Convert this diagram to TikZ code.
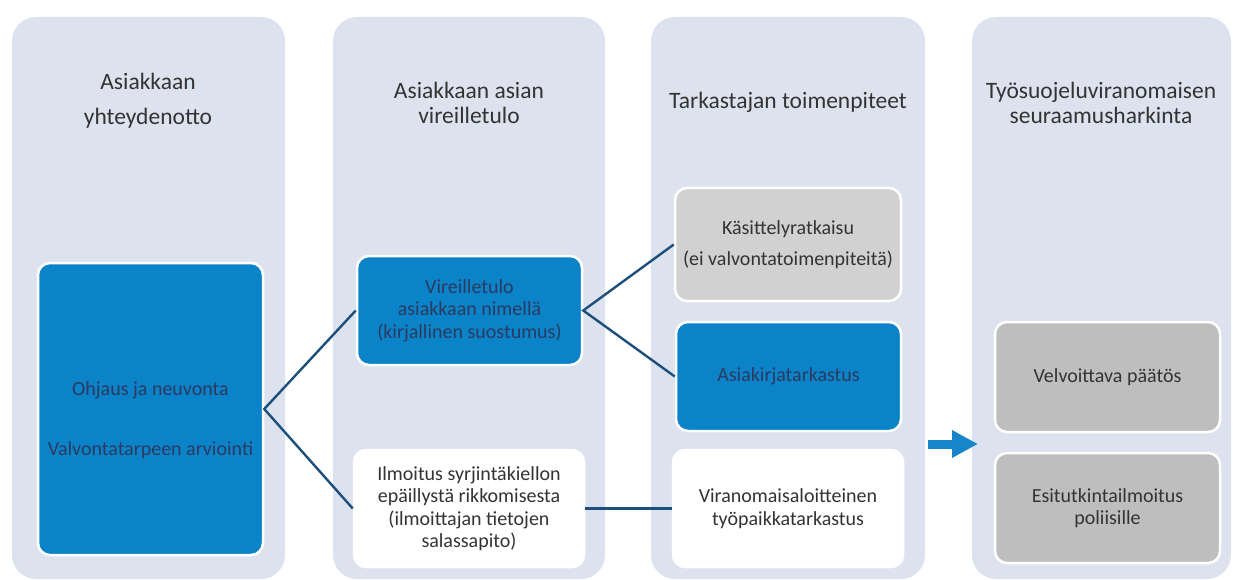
\documentclass[tikz,border=0pt]{standalone}
\usepackage{fontspec}
\setmainfont{Carlito}
\usetikzlibrary{arrows.meta}
\definecolor{panelgray}{HTML}{DDE3EE}
\definecolor{boxblue}{HTML}{0B83C9}
\definecolor{bluetext}{HTML}{2B3A5E}
\definecolor{lightgray}{HTML}{D1D1D1}
\definecolor{midgray}{HTML}{BEBEBE}
\definecolor{linkblue}{HTML}{1D4F7C}
\definecolor{arrowblue}{HTML}{1785C9}
\definecolor{darktext}{HTML}{333333}
\tikzset{
	panel/.style={fill=panelgray, rounded corners=24pt, minimum height=562pt, inner sep=0pt},
	title/.style={align=center, text=darktext, font=\fontsize{23.5}{25}\selectfont},
	box/.style={draw=white, line width=2.5pt, rounded corners=12pt, align=center,
		minimum width=225pt, inner sep=0pt, text=darktext, font=\fontsize{20}{22.5}\selectfont},
	bluebox/.style={box, fill=boxblue, text=bluetext},
	graybox/.style={box, fill=lightgray},
	darkbox/.style={box, fill=midgray},
	whitebox/.style={box, fill=white, draw=white, minimum width=230pt, minimum height=117pt},
	link/.style={draw=linkblue, line width=2.4pt}
}
\begin{document}
\begin{tikzpicture}[x=1pt,y=-1pt]
	\useasboundingbox (0,0) rectangle (1233,580);
	% columns
	\foreach \x/\w [count=\i] in {148.5/273, 469/272, 788/274, 1101.5/259}{
		\node[panel, minimum width=\w pt] (col\i) at (\x,298) {};
	}
	\node[title] (t1) at (148,101) {Asiakkaan\\[10pt]yhteydenotto};
	\node[title] (t2) at (469,103) {Asiakkaan asian\\vireilletulo};
	\node[title] (t3) at (788,102) {Tarkastajan toimenpiteet};
	\node[title] (t4) at (1101,103) {Työsuojeluviranomaisen\\seuraamusharkinta};
	% boxes
	\node[bluebox, minimum height=292pt] (ohjaus) at (150.5,409) {\mbox{}\\[14pt]Ohjaus ja neuvonta\\[37.5pt]Valvontatarpeen arviointi};
	\node[bluebox, minimum height=109pt] (vireille) at (469.5,310.5) {Vireilletulo\\asiakkaan nimellä\\(kirjallinen suostumus)};
	\node[whitebox] (ilmoitus) at (469,508.5) {Ilmoitus syrjintäkiellon\\epäillystä rikkomisesta\\(ilmoittajan tietojen\\salassapito)};
	\node[graybox, minimum width=226pt, minimum height=113pt] (kasittely) at (788,244.5) {Käsittelyratkaisu\\[8pt](ei valvontatoimenpiteitä)};
	\node[bluebox, minimum height=109pt] (asiakirja) at (788.5,376.5) {Asiakirjatarkastus};
	\node[whitebox] (tarkastus) at (788,508.5) {Viranomaisaloitteinen\\työpaikkatarkastus};
	\node[darkbox, minimum height=110pt] (paatos) at (1107.5,377) {Velvoittava päätös};
	\node[darkbox, minimum height=110pt] (esitutkinta) at (1107.5,508) {Esitutkintailmoitus\\poliisille};
	% connectors
	\draw[link] (vireille.west)--(ohjaus.east)--(ilmoitus.west);
	\draw[link] (kasittely.west)--(vireille.east)--(asiakirja.west);
	\draw[link] (ilmoitus.east)--(tarkastus.west);
	\coordinate (arrS) at (928,444);
	\coordinate (arrE) at (978,444);
	\draw[draw=arrowblue, line width=9pt, -{Triangle[length=26pt,width=26pt]}] (arrS)--(arrE);
\end{tikzpicture}
\end{document}
